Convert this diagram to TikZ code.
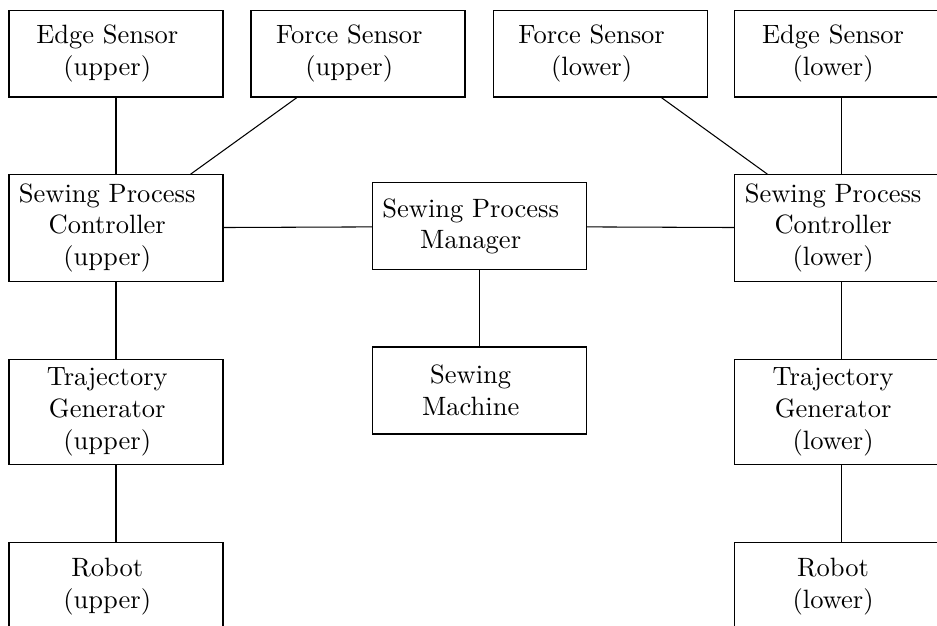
\documentclass[tikz,border=0pt]{standalone}
\usepackage{amsmath}
\usepackage{tikz}
\usetikzlibrary{positioning}

\begin{document}
\begin{tikzpicture}[block/.style={draw, text width=2.605cm, minimum height=1.154cm,
    execute at begin node={\centering\rightskip=6.6pt plus 1fil}}]
\clip (0,0) rectangle (12.43,-8.30); %frame, outer boxes are cut here
\node[block] (esu) at (1.539,-0.710) {Edge Sensor\\(upper)};
\node[block] (fsu) at (4.749,-0.710) {Force Sensor\\(upper)};
\node[block] (fsl) at (7.965,-0.710) {Force Sensor\\(lower)};
\node[block] (esl) at (11.168,-0.710) {Edge Sensor\\(lower)};
\node[block] (spcu) at (1.539,-3.024) {Sewing Process\\Controller\\(upper)};
\node[block] (spm) at (6.360,-3.004) {Sewing Process\\Manager};
\node[block] (spcl) at (11.168,-3.024) {Sewing Process\\Controller\\(lower)};
\node[block] (sm) at (6.360,-5.180) {Sewing\\Machine};
\node[block] (tgu) at (1.539,-5.465) {Trajectory\\Generator\\(upper)};
\node[block] (tgl) at (11.168,-5.465) {Trajectory\\Generator\\(lower)};
\node[block] (rbu) at (1.539,-7.779) {Robot\\(upper)};
\node[block] (rbl) at (11.168,-7.779) {Robot\\(lower)};
\draw (esu) -- (spcu);
\draw (fsu) -- (spcu);
\draw (fsl) -- (spcl);
\draw (esl) -- (spcl);
\draw (spcu) -- (spm);
\draw (spm) -- (spcl);
\draw (spm) -- (sm);
\draw (spcu) -- (tgu);
\draw (tgu) -- (rbu);
\draw (spcl) -- (tgl);
\draw (tgl) -- (rbl);
\end{tikzpicture}
\end{document}
